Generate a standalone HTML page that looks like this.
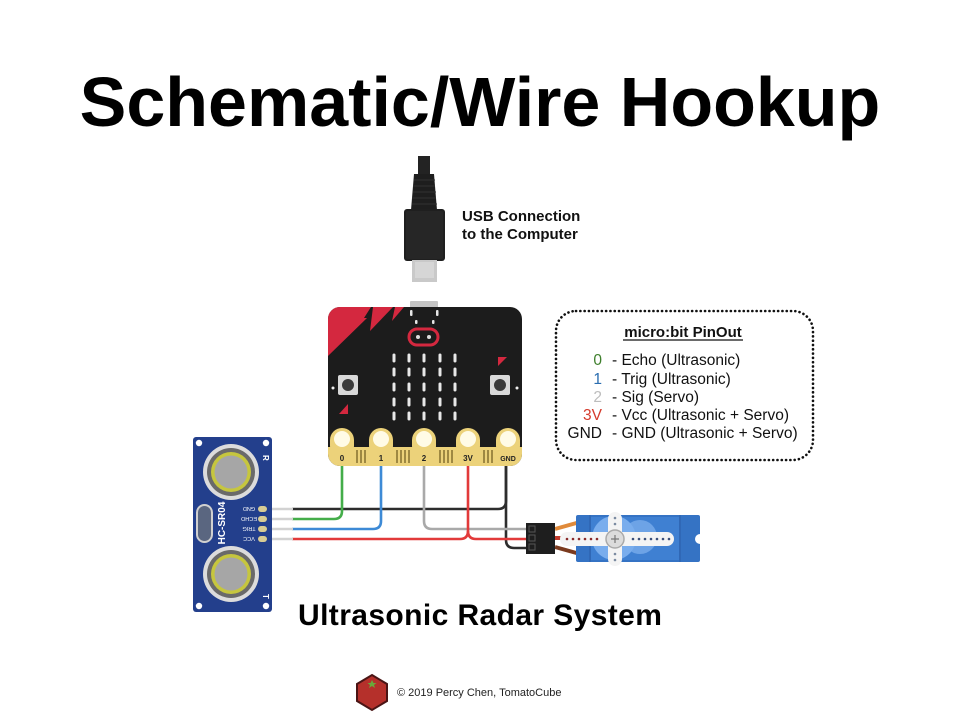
<!DOCTYPE html>
<html><head><meta charset="utf-8"><style>
html,body{margin:0;padding:0;background:#fff;}
svg{display:block;}
text{font-family:"Liberation Sans",Arial,sans-serif;}
</style></head><body>
<svg width="960" height="720" viewBox="0 0 960 720" xmlns="http://www.w3.org/2000/svg">
<rect width="960" height="720" fill="#fff"/>
<defs>
<clipPath id="mb"><rect x="328" y="307" width="194" height="159" rx="12"/></clipPath>
</defs>

<!-- Title -->
<text x="480" y="126" text-anchor="middle" font-size="70" font-weight="bold" fill="#000">Schematic/Wire Hookup</text>

<!-- USB cable -->
<rect x="418" y="156" width="12" height="19" fill="#232323"/>
<polygon points="414,174 434,174 437,210 411,210" fill="#1e1e1e"/>
<g stroke="#333" stroke-width="1">
<line x1="414" y1="180" x2="435" y2="180"/><line x1="413" y1="186" x2="435" y2="186"/><line x1="413" y1="192" x2="436" y2="192"/><line x1="412" y1="198" x2="436" y2="198"/><line x1="412" y1="204" x2="437" y2="204"/>
</g>
<rect x="404" y="209" width="41" height="52" rx="3" fill="#1f1f1f"/>
<rect x="406" y="211" width="37" height="48" rx="2" fill="#262626"/>
<rect x="412" y="260" width="25" height="22" fill="#c9c9c9"/>
<rect x="415" y="262" width="19" height="16" fill="#d6d6d6"/>
<text x="462" y="221" font-size="15" font-weight="bold" fill="#111">USB Connection</text>
<text x="462" y="239" font-size="15" font-weight="bold" fill="#111">to the Computer</text>

<!-- micro:bit -->
<rect x="410" y="301" width="28" height="8" rx="1" fill="#c4c4c4"/>
<rect x="328" y="307" width="194" height="159" rx="12" fill="#1c1c1c"/>
<g clip-path="url(#mb)">
<polygon points="328,307 371,307 364,318 367,318 328,356" fill="#d4283f"/>
<polygon points="373,307 393,307 370,331" fill="#d4283f"/>
<polygon points="395,307 404,307 392,321" fill="#d4283f"/>
<rect x="328" y="447" width="194" height="19" fill="#ecd27a"/>
</g>
<g fill="#e6e6e6">
<rect x="410" y="310" width="2.5" height="6" rx="1"/><rect x="436" y="310" width="2.5" height="6" rx="1"/>
<rect x="415" y="320" width="2.5" height="4" rx="1"/><rect x="432" y="320" width="2.5" height="4" rx="1"/>
</g>
<rect x="409" y="329" width="29" height="16" rx="8" fill="none" stroke="#d4283f" stroke-width="3"/>
<circle cx="418" cy="337" r="2" fill="#ddd"/><circle cx="429" cy="337" r="2" fill="#ddd"/>
<g fill="#e8e8e8">
<rect x="392.5" y="353.5" width="3" height="9" rx="1.5"/><rect x="407.5" y="353.5" width="3" height="9" rx="1.5"/><rect x="422.5" y="353.5" width="3" height="9" rx="1.5"/><rect x="438.5" y="353.5" width="3" height="9" rx="1.5"/><rect x="453.5" y="353.5" width="3" height="9" rx="1.5"/>
<rect x="392.5" y="367.5" width="3" height="9" rx="1.5"/><rect x="407.5" y="367.5" width="3" height="9" rx="1.5"/><rect x="422.5" y="367.5" width="3" height="9" rx="1.5"/><rect x="438.5" y="367.5" width="3" height="9" rx="1.5"/><rect x="453.5" y="367.5" width="3" height="9" rx="1.5"/>
<rect x="392.5" y="382.5" width="3" height="9" rx="1.5"/><rect x="407.5" y="382.5" width="3" height="9" rx="1.5"/><rect x="422.5" y="382.5" width="3" height="9" rx="1.5"/><rect x="438.5" y="382.5" width="3" height="9" rx="1.5"/><rect x="453.5" y="382.5" width="3" height="9" rx="1.5"/>
<rect x="392.5" y="397.5" width="3" height="9" rx="1.5"/><rect x="407.5" y="397.5" width="3" height="9" rx="1.5"/><rect x="422.5" y="397.5" width="3" height="9" rx="1.5"/><rect x="438.5" y="397.5" width="3" height="9" rx="1.5"/><rect x="453.5" y="397.5" width="3" height="9" rx="1.5"/>
<rect x="392.5" y="411.5" width="3" height="9" rx="1.5"/><rect x="407.5" y="411.5" width="3" height="9" rx="1.5"/><rect x="422.5" y="411.5" width="3" height="9" rx="1.5"/><rect x="438.5" y="411.5" width="3" height="9" rx="1.5"/><rect x="453.5" y="411.5" width="3" height="9" rx="1.5"/>
</g>
<rect x="338" y="375" width="20" height="20" rx="2" fill="#d9d9d9"/><circle cx="348" cy="385" r="6" fill="#3a3a3a"/>
<rect x="490" y="375" width="20" height="20" rx="2" fill="#d9d9d9"/><circle cx="500" cy="385" r="6" fill="#3a3a3a"/>
<circle cx="333" cy="388" r="1.5" fill="#eee"/><circle cx="517" cy="388" r="1.5" fill="#eee"/>
<polygon points="339,414 348,404 348,414" fill="#d4283f"/>
<polygon points="498,357 507,357 498,366" fill="#d4283f"/>
<g fill="#ecd27a">
<rect x="330" y="428" width="24" height="30" rx="12"/>
<rect x="369" y="428" width="24" height="30" rx="12"/>
<rect x="412" y="428" width="24" height="30" rx="12"/>
<rect x="456" y="428" width="24" height="30" rx="12"/>
<rect x="496" y="428" width="24" height="30" rx="12"/>
</g>
<g fill="#fffbe6">
<circle cx="342" cy="439" r="8"/><circle cx="381" cy="439" r="8"/><circle cx="424" cy="439" r="8"/><circle cx="468" cy="439" r="8"/><circle cx="508" cy="439" r="8"/>
</g>
<g stroke="#5e4d14" stroke-width="1.1">
<line x1="357" y1="450" x2="357" y2="463"/><line x1="361" y1="450" x2="361" y2="463"/><line x1="365" y1="450" x2="365" y2="463"/>
<line x1="397" y1="450" x2="397" y2="463"/><line x1="401" y1="450" x2="401" y2="463"/><line x1="405" y1="450" x2="405" y2="463"/><line x1="409" y1="450" x2="409" y2="463"/>
<line x1="440" y1="450" x2="440" y2="463"/><line x1="444" y1="450" x2="444" y2="463"/><line x1="448" y1="450" x2="448" y2="463"/><line x1="452" y1="450" x2="452" y2="463"/>
<line x1="484" y1="450" x2="484" y2="463"/><line x1="488" y1="450" x2="488" y2="463"/><line x1="492" y1="450" x2="492" y2="463"/>
</g>
<g font-size="8" font-weight="bold" fill="#222" text-anchor="middle">
<text x="342" y="461">0</text><text x="381" y="461">1</text><text x="424" y="461">2</text><text x="468" y="461">3V</text><text x="508" y="461" font-size="7">GND</text>
</g>

<!-- wires -->
<g fill="none" stroke-width="2.6">
<path d="M506,466 V501 Q506,509 498,509 H292" stroke="#2d2d2d"/>
<path d="M506,466 V540 Q506,548 514,548 H527" stroke="#2d2d2d"/>
<path d="M342,466 V511 Q342,519 334,519 H292" stroke="#44ad4a"/>
<path d="M381,466 V521 Q381,529 373,529 H292" stroke="#3d8ad6"/>
<path d="M424,466 V521 Q424,529 432,529 H527" stroke="#a9a9a9"/>
<path d="M468,466 V531 Q468,539 460,539 H292" stroke="#e23a3a"/>
<path d="M468,531 Q468,539 476,539 H527" stroke="#e23a3a"/>
<g stroke="#d2d2d2">
<line x1="267" y1="509" x2="293" y2="509"/><line x1="267" y1="519" x2="293" y2="519"/><line x1="267" y1="529" x2="293" y2="529"/><line x1="267" y1="539" x2="293" y2="539"/>
</g>
</g>

<!-- Ultrasonic sensor -->
<rect x="193" y="437" width="79" height="175" rx="3" fill="#233f8c"/>
<g fill="#fff"><circle cx="199" cy="443" r="3.2"/><circle cx="266" cy="443" r="3.2"/><circle cx="199" cy="606" r="3.2"/><circle cx="266" cy="606" r="3.2"/></g>
<circle cx="231" cy="472" r="28" fill="#dcdcdc"/><circle cx="231" cy="472" r="24" fill="#6a6a6a"/><circle cx="231" cy="472" r="20" fill="#c6c63e"/><circle cx="231" cy="472" r="16.5" fill="#a6a6a6"/>
<circle cx="231" cy="574" r="28" fill="#dcdcdc"/><circle cx="231" cy="574" r="24" fill="#6a6a6a"/><circle cx="231" cy="574" r="20" fill="#c6c63e"/><circle cx="231" cy="574" r="16.5" fill="#a6a6a6"/>
<rect x="197" y="505" width="15" height="37" rx="7.5" fill="#5a6680" stroke="#d0d0d0" stroke-width="2"/>
<text x="0" y="0" transform="translate(225,523) rotate(-90)" text-anchor="middle" font-size="10" font-weight="bold" fill="#fff" font-family="Liberation Mono, monospace">HC-SR04</text>
<g font-size="5.5" fill="#fff" text-anchor="middle">
<text transform="translate(249,507) rotate(180)">GND</text>
<text transform="translate(249,517) rotate(180)">ECHO</text>
<text transform="translate(249,527) rotate(180)">TRIG</text>
<text transform="translate(249,537) rotate(180)">VCC</text>
</g>
<g fill="#d8cc94"><rect x="258" y="506" width="9" height="6" rx="3"/><rect x="258" y="516" width="9" height="6" rx="3"/><rect x="258" y="526" width="9" height="6" rx="3"/><rect x="258" y="536" width="9" height="6" rx="3"/></g>
<text transform="translate(263,455) rotate(90)" font-size="8" font-weight="bold" fill="#fff">R</text>
<text transform="translate(263,594) rotate(90)" font-size="8" font-weight="bold" fill="#fff">T</text>

<!-- Servo -->
<line x1="555" y1="529" x2="580" y2="522" stroke="#e08a3a" stroke-width="4"/>
<line x1="555" y1="538" x2="580" y2="538" stroke="#c0392b" stroke-width="4"/>
<line x1="555" y1="547" x2="580" y2="554" stroke="#7a3a1e" stroke-width="4"/>
<rect x="526" y="523" width="29" height="31" fill="#1e1e1e"/>
<g fill="none" stroke="#555" stroke-width="1"><rect x="529" y="526" width="6" height="6"/><rect x="529" y="535" width="6" height="6"/><rect x="529" y="544" width="6" height="6"/></g>
<rect x="576" y="515" width="124" height="47" rx="2" fill="#3573c4"/>
<rect x="591" y="517" width="88" height="43" fill="#3f80d2"/>
<line x1="590" y1="515" x2="590" y2="562" stroke="#2a5ea8" stroke-width="1"/>
<line x1="680" y1="515" x2="680" y2="562" stroke="#2a5ea8" stroke-width="1"/>
<circle cx="640" cy="537" r="17" fill="#6da3e6"/>
<circle cx="614" cy="538" r="22" fill="#79aded"/>
<circle cx="700" cy="539" r="5" fill="#fff"/>
<rect x="560" y="532" width="114" height="14" rx="7" fill="#f4f4f4"/>
<rect x="608" y="512" width="14" height="54" rx="7" fill="#f4f4f4"/>
<g fill="#8a2a2a"><circle cx="567" cy="539" r="1.3"/><circle cx="573" cy="539" r="1.3"/><circle cx="579" cy="539" r="1.3"/><circle cx="585" cy="539" r="1.3"/><circle cx="591" cy="539" r="1.3"/><circle cx="597" cy="539" r="1.3"/></g>
<g fill="#3a4f7a"><circle cx="633" cy="539" r="1.3"/><circle cx="639" cy="539" r="1.3"/><circle cx="645" cy="539" r="1.3"/><circle cx="651" cy="539" r="1.3"/><circle cx="657" cy="539" r="1.3"/><circle cx="663" cy="539" r="1.3"/><circle cx="669" cy="539" r="1.3"/></g>
<g fill="#7a8aa0"><circle cx="615" cy="518" r="1.3"/><circle cx="615" cy="524" r="1.3"/><circle cx="615" cy="554" r="1.3"/><circle cx="615" cy="560" r="1.3"/></g>
<circle cx="615" cy="539" r="9" fill="#dcdcdc" stroke="#aaa" stroke-width="1.5"/>
<path d="M611,539 H619 M615,535 V543" stroke="#777" stroke-width="1.2"/>

<text x="298" y="625" font-size="30" font-weight="bold" letter-spacing="0.4" fill="#000">Ultrasonic Radar System</text>

<!-- Pinout box -->
<rect x="556" y="311" width="257" height="149" rx="20" fill="none" stroke="#111" stroke-width="2.6" stroke-dasharray="0.1 4.2" stroke-linecap="round"/>
<text x="683" y="337" text-anchor="middle" font-size="15" font-weight="bold" fill="#111">micro:bit PinOut</text>
<line x1="623" y1="340" x2="743" y2="340" stroke="#111" stroke-width="1.2"/>
<g font-size="15.5" fill="#111">
<text x="602" y="365" text-anchor="end" fill="#3e7f2c">0</text><text x="612" y="365">- Echo (Ultrasonic)</text>
<text x="602" y="384" text-anchor="end" fill="#2a6db0">1</text><text x="612" y="384">- Trig (Ultrasonic)</text>
<text x="602" y="402" text-anchor="end" fill="#bdbdbd">2</text><text x="612" y="402">- Sig (Servo)</text>
<text x="602" y="420" text-anchor="end" fill="#d43a2c">3V</text><text x="612" y="420">- Vcc (Ultrasonic + Servo)</text>
<text x="602" y="438" text-anchor="end">GND</text><text x="612" y="438">- GND (Ultrasonic + Servo)</text>
</g>

<!-- footer -->
<polygon points="372,675 387,684 387,701 372,710 357,701 357,684" fill="#b5302b" stroke="#4a1515" stroke-width="2"/>
<polygon points="372,680 373.5,683 376.5,683 374,685 375,688 372,686 369,688 370,685 367.5,683 370.5,683" fill="#6aa83a"/>
<text x="397" y="696" font-size="11" fill="#222">© 2019 Percy Chen, TomatoCube</text>
</svg>
</body></html>
